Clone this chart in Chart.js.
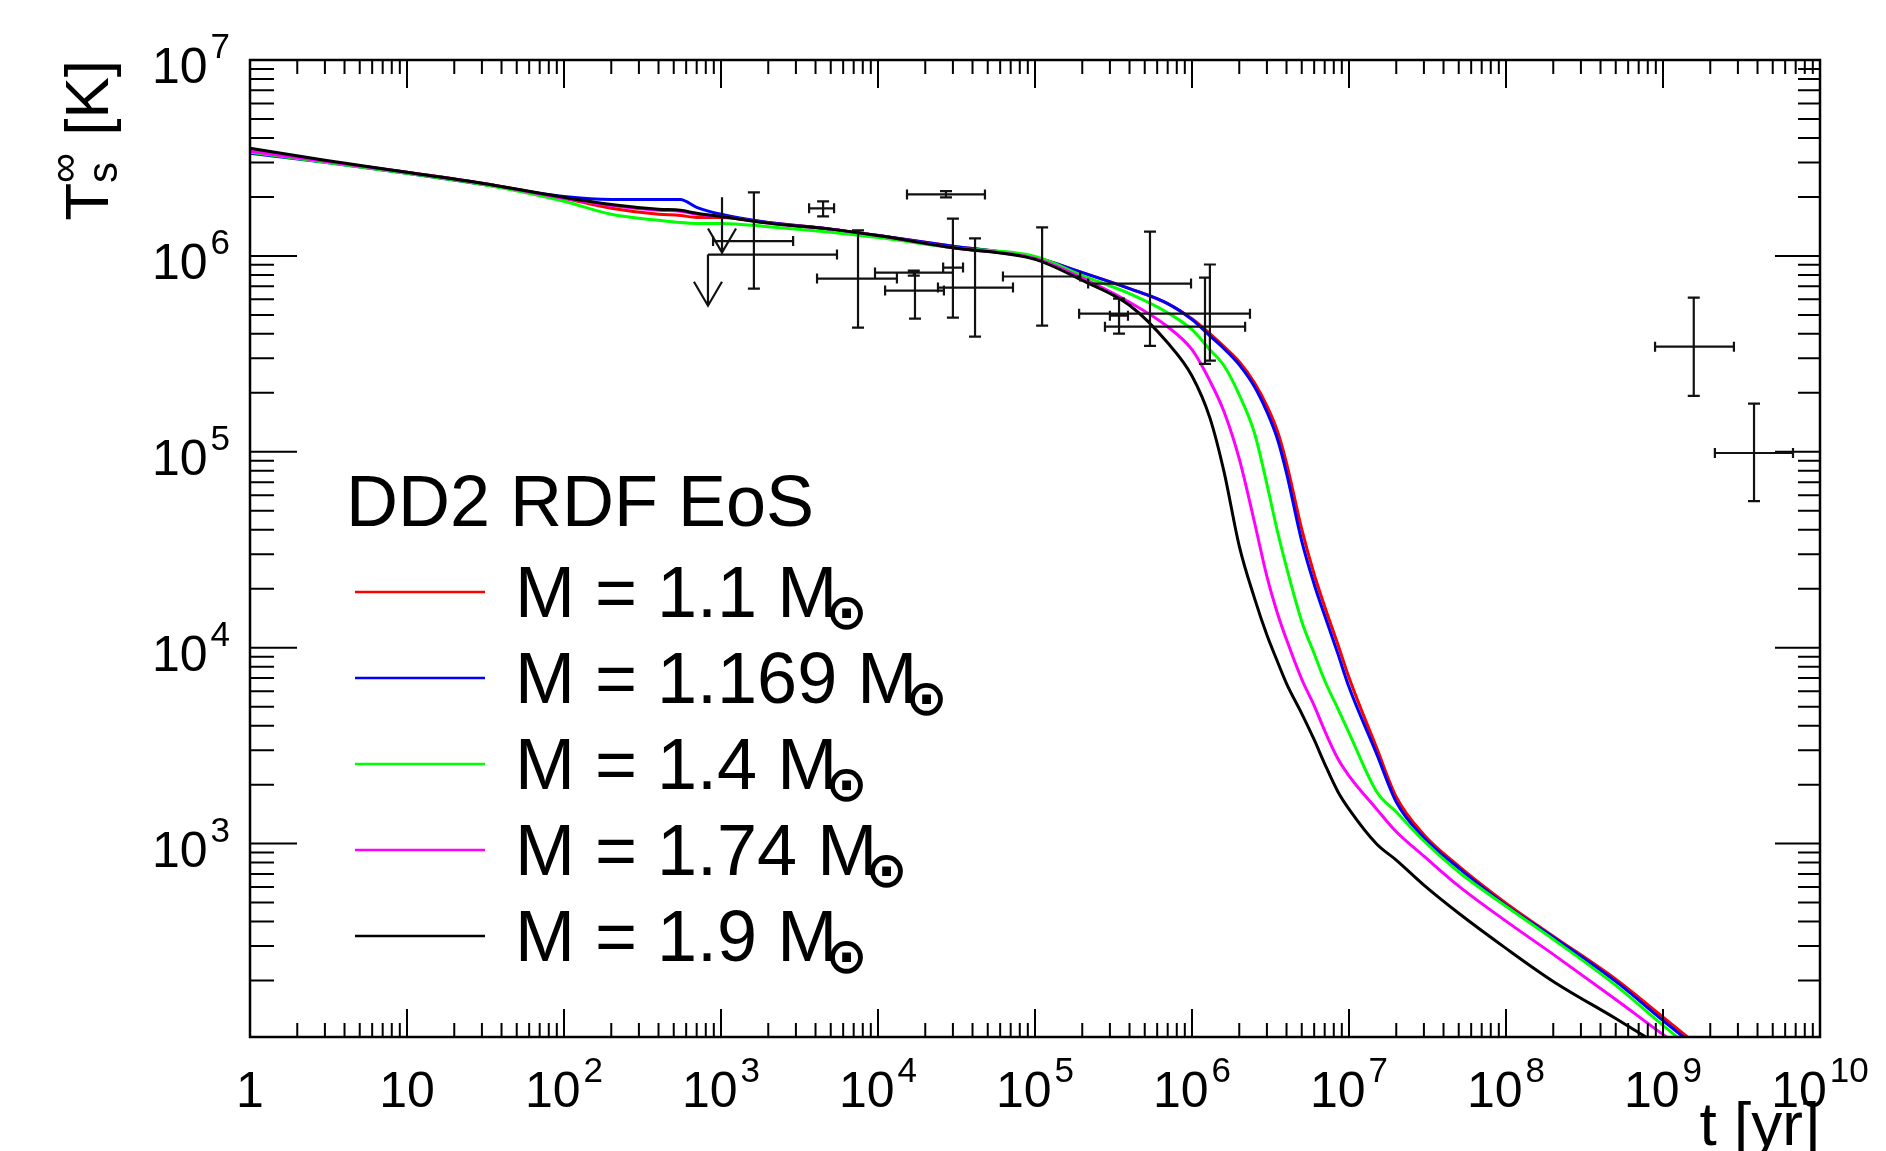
<!DOCTYPE html>
<html lang="en">
<head>
<meta charset="utf-8">
<title>DD2 RDF EoS cooling curves</title>
<script src="https://cdn.jsdelivr.net/npm/chart.js@4.4.1/dist/chart.umd.min.js"></script>
<style>
    html, body { margin: 0; padding: 0; background: #ffffff; }
    canvas { display: block; }
</style>
</head>
<body>
<canvas id="coolingChart" width="1886" height="1151"></canvas>
<script>
// Star age grid [yr], shared by all cooling curves
const ages = [1, 3, 10, 30, 100, 200, 400, 550, 700, 1e3,
    2e3, 5e3, 1e4, 3e4, 1e5, 2e5, 4e5, 7e5, 1e6, 1.3e6,
    1.6e6, 2e6, 2.5e6, 3e6, 3.5e6, 4e6, 5e6, 6e6, 7e6, 8.5e6,
    1e7, 1.5e7, 2e7, 3e7, 5e7, 1e8, 2e8, 5e8, 1e9, 2e9];

// Surface temperature T_s [K] for each mass
const tempM110 = [3.42e6, 3.04e6, 2.67e6, 2.35e6, 1.97e6, 1.75e6, 1.63e6, 1.61e6, 1.57e6, 1.57e6,
    1.48e6, 1.37e6, 1.27e6, 1.12e6, 9.81e5, 8.22e5, 6.81e5, 5.71e5, 4.78e5, 4.01e5,
    3.44e5, 2.88e5, 2.25e5, 1.715e5, 1.277e5, 8.76e4, 4.03e4, 2.37e4, 1.625e4, 1.039e4,
    7.04e3, 3.08e3, 1.73e3, 1.11e3, 768, 497, 337, 203, 130, 83];
const tempM1169 = [3.34e6, 3.01e6, 2.64e6, 2.32e6, 2.01e6, 1.94e6, 1.94e6, 1.94e6, 1.77e6, 1.63e6,
    1.48e6, 1.37e6, 1.27e6, 1.12e6, 9.81e5, 8.22e5, 6.81e5, 5.71e5, 4.73e5, 3.91e5,
    3.36e5, 2.78e5, 2.15e5, 1.60e5, 1.163e5, 7.79e4, 3.5e4, 2.11e4, 1.46e4, 9.3e3,
    6.3e3, 2.87e3, 1.63e3, 1.07e3, 750, 485, 333, 198, 125, 80];
const tempM140 = [3.38e6, 3.01e6, 2.64e6, 2.32e6, 1.90e6, 1.63e6, 1.52e6, 1.48e6, 1.465e6, 1.465e6,
    1.41e6, 1.32e6, 1.24e6, 1.10e6, 9.93e5, 7.94e5, 6.42e5, 5.13e5, 4.2e5, 3.32e5,
    2.75e5, 1.953e5, 1.248e5, 6.84e4, 3.93e4, 2.57e4, 1.362e4, 9.34e3, 6.80e3, 4.88e3,
    3.68e3, 1.84e3, 1.451e3, 1.031e3, 716, 479, 325, 189, 118, 75];
const tempM174 = [3.42e6, 3.04e6, 2.67e6, 2.35e6, 1.97e6, 1.81e6, 1.71e6, 1.69e6, 1.63e6, 1.59e6,
    1.47e6, 1.37e6, 1.27e6, 1.10e6, 9.7e5, 7.7e5, 5.8e5, 4.35e5, 3.32e5, 2.30e5,
    1.60e5, 9.2e4, 4.37e4, 2.31e4, 1.50e4, 1.10e4, 6.9e3, 5.06e3, 3.77e3, 2.71e3,
    2.22e3, 1.50e3, 1.15e3, 864, 607, 402, 272, 160, 106, 72];
const tempM190 = [3.55e6, 3.08e6, 2.67e6, 2.35e6, 1.99e6, 1.83e6, 1.73e6, 1.71e6, 1.65e6, 1.59e6,
    1.47e6, 1.37e6, 1.27e6, 1.10e6, 9.6e5, 7.5e5, 5.6e5, 3.6e5, 2.44e5, 1.49e5,
    7.9e4, 3.3e4, 1.79e4, 1.16e4, 8.5e3, 6.56e3, 4.61e3, 3.39e3, 2.555e3, 1.84e3,
    1.50e3, 995, 824, 614, 441, 292, 198, 128, 91, 65];

const massLabels = ['M = 1.1 M', 'M = 1.169 M', 'M = 1.4 M', 'M = 1.74 M', 'M = 1.9 M'];
const massColors = ['#ff0000', '#0000ff', '#00ff00', '#ff00ff', '#000000'];
const legendTitle = 'DD2 RDF EoS';

// Observed sources: age [yr] with range, temperature [K] with range
const obsAge    = [1620, 4470, 2.71e4, 7460, 3.0e4, 1.69e4, 1.72e4, 4.15e4, 1.11e5, 5.4e5, 3.43e5, 1.30e6, 1.21e6, 1.57e9, 3.8e9];
const obsAgeLo  = [890, 3640, 1.53e4, 4090, 2.6e4, 9570, 1.11e4, 2.41e4, 6.25e4, 2.18e5, 3.0e5, 1.91e5, 2.79e5, 8.9e8, 2.14e9];
const obsAgeHi  = [2880, 5250, 4.8e4, 1.32e4, 3.48e4, 3.0e4, 2.63e4, 7.24e4, 1.94e5, 9.86e5, 3.91e5, 2.34e6, 2.18e6, 2.83e9, 6.73e9];
const obsTemp   = [1.19e6, 1.75e6, 2.06e6, 7.66e5, 8.72e5, 8.22e5, 6.65e5, 6.89e5, 7.85e5, 7.22e5, 4.95e5, 5.07e5, 4.35e5, 3.44e5, 9.86e4];
const obsTempLo = [6.8e5, 1.59e6, 1.99e6, 4.3e5, 4.84e5, 7.94e5, 4.79e5, 3.87e5, 4.41e5, 3.47e5, 4.01e5, 2.92e5, 2.81e5, 1.93e5, 5.6e4];
const obsTempHi = [2.11e6, 1.90e6, 2.14e6, 1.35e6, 1.55e6, 8.42e5, 8.22e5, 1.23e6, 1.40e6, 1.33e6, 6.05e5, 9.04e5, 7.74e5, 6.12e5, 1.76e5];

// Upper limits, drawn as downward arrows
const limitAge   = [1015, 826];
const limitAgeHi = [null, 5480];
const limitTemp  = [1.99e6, 1.016e6];
const limitTip   = [1.04e6, 5.57e5];

// Axis ticks
const xTickValues = [1, 10, 1e2, 1e3, 1e4, 1e5, 1e6, 1e7, 1e8, 1e9, 1e10];
const xTickLabels = ['1', '10', '10^2', '10^3', '10^4', '10^5', '10^6', '10^7', '10^8', '10^9', '10^10'];
const yTickValues = [1e3, 1e4, 1e5, 1e6, 1e7];
const yTickLabels = ['10^3', '10^4', '10^5', '10^6', '10^7'];

const FONT = '"Liberation Sans", Arial, Helvetica, sans-serif';

// Draws "10^N" style labels with a raised exponent
function drawPowerLabel(ctx, text, x, y, align) {
    const parts = text.split('^');
    const base = parts[0];
    const exp = parts[1];
    ctx.font = `50px ${FONT}`;
    const wb = ctx.measureText(base).width;
    let we = 0;
    if (exp) {
        ctx.font = `35px ${FONT}`;
        we = ctx.measureText(exp).width + 3;
    }
    const total = wb + we;
    let left = x;
    if (align === 'center') left = x - total / 2;
    if (align === 'right') left = x - total;
    ctx.textAlign = 'left';
    ctx.textBaseline = 'alphabetic';
    ctx.font = `50px ${FONT}`;
    ctx.fillText(base, left, y);
    if (exp) {
        ctx.font = `35px ${FONT}`;
        ctx.fillText(exp, left + wb + 3, y - 25);
    }
}

// ROOT-like frame: ticks pointing inwards on all four sides
const axesPlugin = {
    id: 'rootAxes',
    afterDatasetsDraw(chart) {
        const { ctx, chartArea: a, scales: { x, y } } = chart;
        ctx.save();
        ctx.strokeStyle = '#000';
        ctx.lineWidth = 2;
        ctx.beginPath();

        // x ticks (bottom and top)
        for (let d = 0; d <= 10; d++) {
            const major = Math.pow(10, d);
            const px = x.getPixelForValue(major);
            ctx.moveTo(px, a.bottom); ctx.lineTo(px, a.bottom - 28);
            ctx.moveTo(px, a.top); ctx.lineTo(px, a.top + 28);
            if (d === 10) break;
            for (let m = 2; m <= 9; m++) {
                const pm = x.getPixelForValue(m * major);
                ctx.moveTo(pm, a.bottom); ctx.lineTo(pm, a.bottom - 14);
                ctx.moveTo(pm, a.top); ctx.lineTo(pm, a.top + 14);
            }
        }

        // y ticks (left and right)
        for (let d = 2; d <= 7; d++) {
            const major = Math.pow(10, d);
            if (major >= y.min) {
                const py = y.getPixelForValue(major);
                ctx.moveTo(a.left, py); ctx.lineTo(a.left + 47, py);
                ctx.moveTo(a.right, py); ctx.lineTo(a.right - 45, py);
            }
            if (d === 7) break;
            for (let m = 2; m <= 9; m++) {
                const py = y.getPixelForValue(m * major);
                ctx.moveTo(a.left, py); ctx.lineTo(a.left + 24, py);
                ctx.moveTo(a.right, py); ctx.lineTo(a.right - 22, py);
            }
        }
        ctx.stroke();

        ctx.lineWidth = 2.5;
        ctx.strokeRect(a.left, a.top, a.right - a.left, a.bottom - a.top);

        // tick labels
        ctx.fillStyle = '#000';
        xTickValues.forEach((v, i) => {
            drawPowerLabel(ctx, xTickLabels[i], x.getPixelForValue(v), a.bottom + 70, 'center');
        });
        yTickValues.forEach((v, i) => {
            drawPowerLabel(ctx, yTickLabels[i], a.left - 20, y.getPixelForValue(v) + 23, 'right');
        });

        // x axis title, right aligned
        ctx.font = `62px ${FONT}`;
        ctx.textAlign = 'right';
        ctx.textBaseline = 'alphabetic';
        ctx.fillText('t [yr]', a.right, a.bottom + 108);

        // y axis title, rotated and aligned to the top of the axis
        ctx.save();
        ctx.translate(108, a.top);
        ctx.rotate(-Math.PI / 2);
        ctx.textAlign = 'left';
        ctx.font = `62px ${FONT}`;
        const wT = ctx.measureText('T').width;
        const wK = ctx.measureText(' [K]').width;
        ctx.font = `42px ${FONT}`;
        const wMid = Math.max(ctx.measureText('s').width, ctx.measureText('\u221E').width);
        const x0 = -(wT + wMid + wK);
        ctx.font = `62px ${FONT}`;
        ctx.fillText('T', x0, 0);
        ctx.font = `42px ${FONT}`;
        ctx.fillText('s', x0 + wT, 9);
        ctx.fillText('\u221E', x0 + wT, -30);
        ctx.font = `62px ${FONT}`;
        ctx.fillText(' [K]', x0 + wT + wMid, 0);
        ctx.restore();

        ctx.restore();
    }
};

// Error crosses for the observed sources and arrows for the upper limits
const errorBarPlugin = {
    id: 'errorBars',
    afterDatasetsDraw(chart) {
        const { ctx, scales: { x, y } } = chart;
        ctx.save();
        ctx.strokeStyle = '#111';
        ctx.lineWidth = 2.2;
        ctx.beginPath();
        obsAge.forEach((t, i) => {
            const px = x.getPixelForValue(t);
            const py = y.getPixelForValue(obsTemp[i]);
            const xl = x.getPixelForValue(obsAgeLo[i]);
            const xh = x.getPixelForValue(obsAgeHi[i]);
            const yl = y.getPixelForValue(obsTempLo[i]);
            const yh = y.getPixelForValue(obsTempHi[i]);
            ctx.moveTo(xl, py); ctx.lineTo(xh, py);
            ctx.moveTo(xl, py - 5); ctx.lineTo(xl, py + 5);
            ctx.moveTo(xh, py - 5); ctx.lineTo(xh, py + 5);
            ctx.moveTo(px, yl); ctx.lineTo(px, yh);
            ctx.moveTo(px - 6, yl); ctx.lineTo(px + 6, yl);
            ctx.moveTo(px - 6, yh); ctx.lineTo(px + 6, yh);
        });
        limitAge.forEach((t, i) => {
            const px = x.getPixelForValue(t);
            const pTop = y.getPixelForValue(limitTemp[i]);
            const pTip = y.getPixelForValue(limitTip[i]);
            ctx.moveTo(px, pTop); ctx.lineTo(px, pTip);
            ctx.moveTo(px - 14, pTip - 24); ctx.lineTo(px, pTip); ctx.lineTo(px + 14, pTip - 24);
            if (limitAgeHi[i]) {
                const xh = x.getPixelForValue(limitAgeHi[i]);
                ctx.moveTo(px, pTop); ctx.lineTo(xh, pTop);
                ctx.moveTo(xh, pTop - 5); ctx.lineTo(xh, pTop + 5);
            }
        });
        ctx.stroke();
        ctx.restore();
    }
};

// Legend drawn inside the frame, with the solar mass symbol as subscript
const legendPlugin = {
    id: 'massLegend',
    afterDraw(chart) {
        const ctx = chart.ctx;
        ctx.save();
        ctx.fillStyle = '#000';
        ctx.textAlign = 'left';
        ctx.textBaseline = 'alphabetic';
        ctx.font = `72px ${FONT}`;
        ctx.fillText(legendTitle, 346, 526);
        chart.data.datasets.forEach((ds, i) => {
            const yLine = 592 + 86 * i;
            ctx.strokeStyle = ds.borderColor;
            ctx.lineWidth = 2.5;
            ctx.beginPath();
            ctx.moveTo(355, yLine);
            ctx.lineTo(485, yLine);
            ctx.stroke();
            ctx.font = `72px ${FONT}`;
            ctx.textAlign = 'left';
            ctx.textBaseline = 'alphabetic';
            ctx.fillText(ds.label, 515, yLine + 25);
            const w = ctx.measureText(ds.label).width;
            ctx.font = 'bold 50px "DejaVu Sans"';
            ctx.textAlign = 'center';
            ctx.textBaseline = 'middle';
            ctx.fillText('\u2299', 515 + w + 9, yLine + 24);
        });
        ctx.restore();
    }
};

const massTemps = [tempM110, tempM1169, tempM140, tempM174, tempM190];

const datasets = massTemps.map((temps, i) => ({
    label: massLabels[i],
    data: ages.map((t, j) => ({ x: t, y: temps[j] })),
    borderColor: massColors[i],
    backgroundColor: massColors[i],
    borderWidth: 3,
    pointRadius: 0,
    fill: false,
    cubicInterpolationMode: 'monotone',
    clip: 0,
    order: massTemps.length - i // black curve ends up on top
}));

const ctx = document.getElementById('coolingChart').getContext('2d');
const coolingChart = new Chart(ctx, {
    type: 'line',
    data: { datasets: datasets },
    options: {
        responsive: false,
        animation: false,
        devicePixelRatio: 1,
        layout: { padding: { left: 250, right: 66, top: 60, bottom: 114 } },
        plugins: {
            legend: { display: false },
            tooltip: { enabled: false }
        },
        scales: {
            x: { type: 'logarithmic', min: 1, max: 1e10, display: false },
            y: { type: 'logarithmic', min: 103, max: 1e7, display: false }
        }
    },
    plugins: [axesPlugin, errorBarPlugin, legendPlugin]
});
</script>
</body>
</html>
